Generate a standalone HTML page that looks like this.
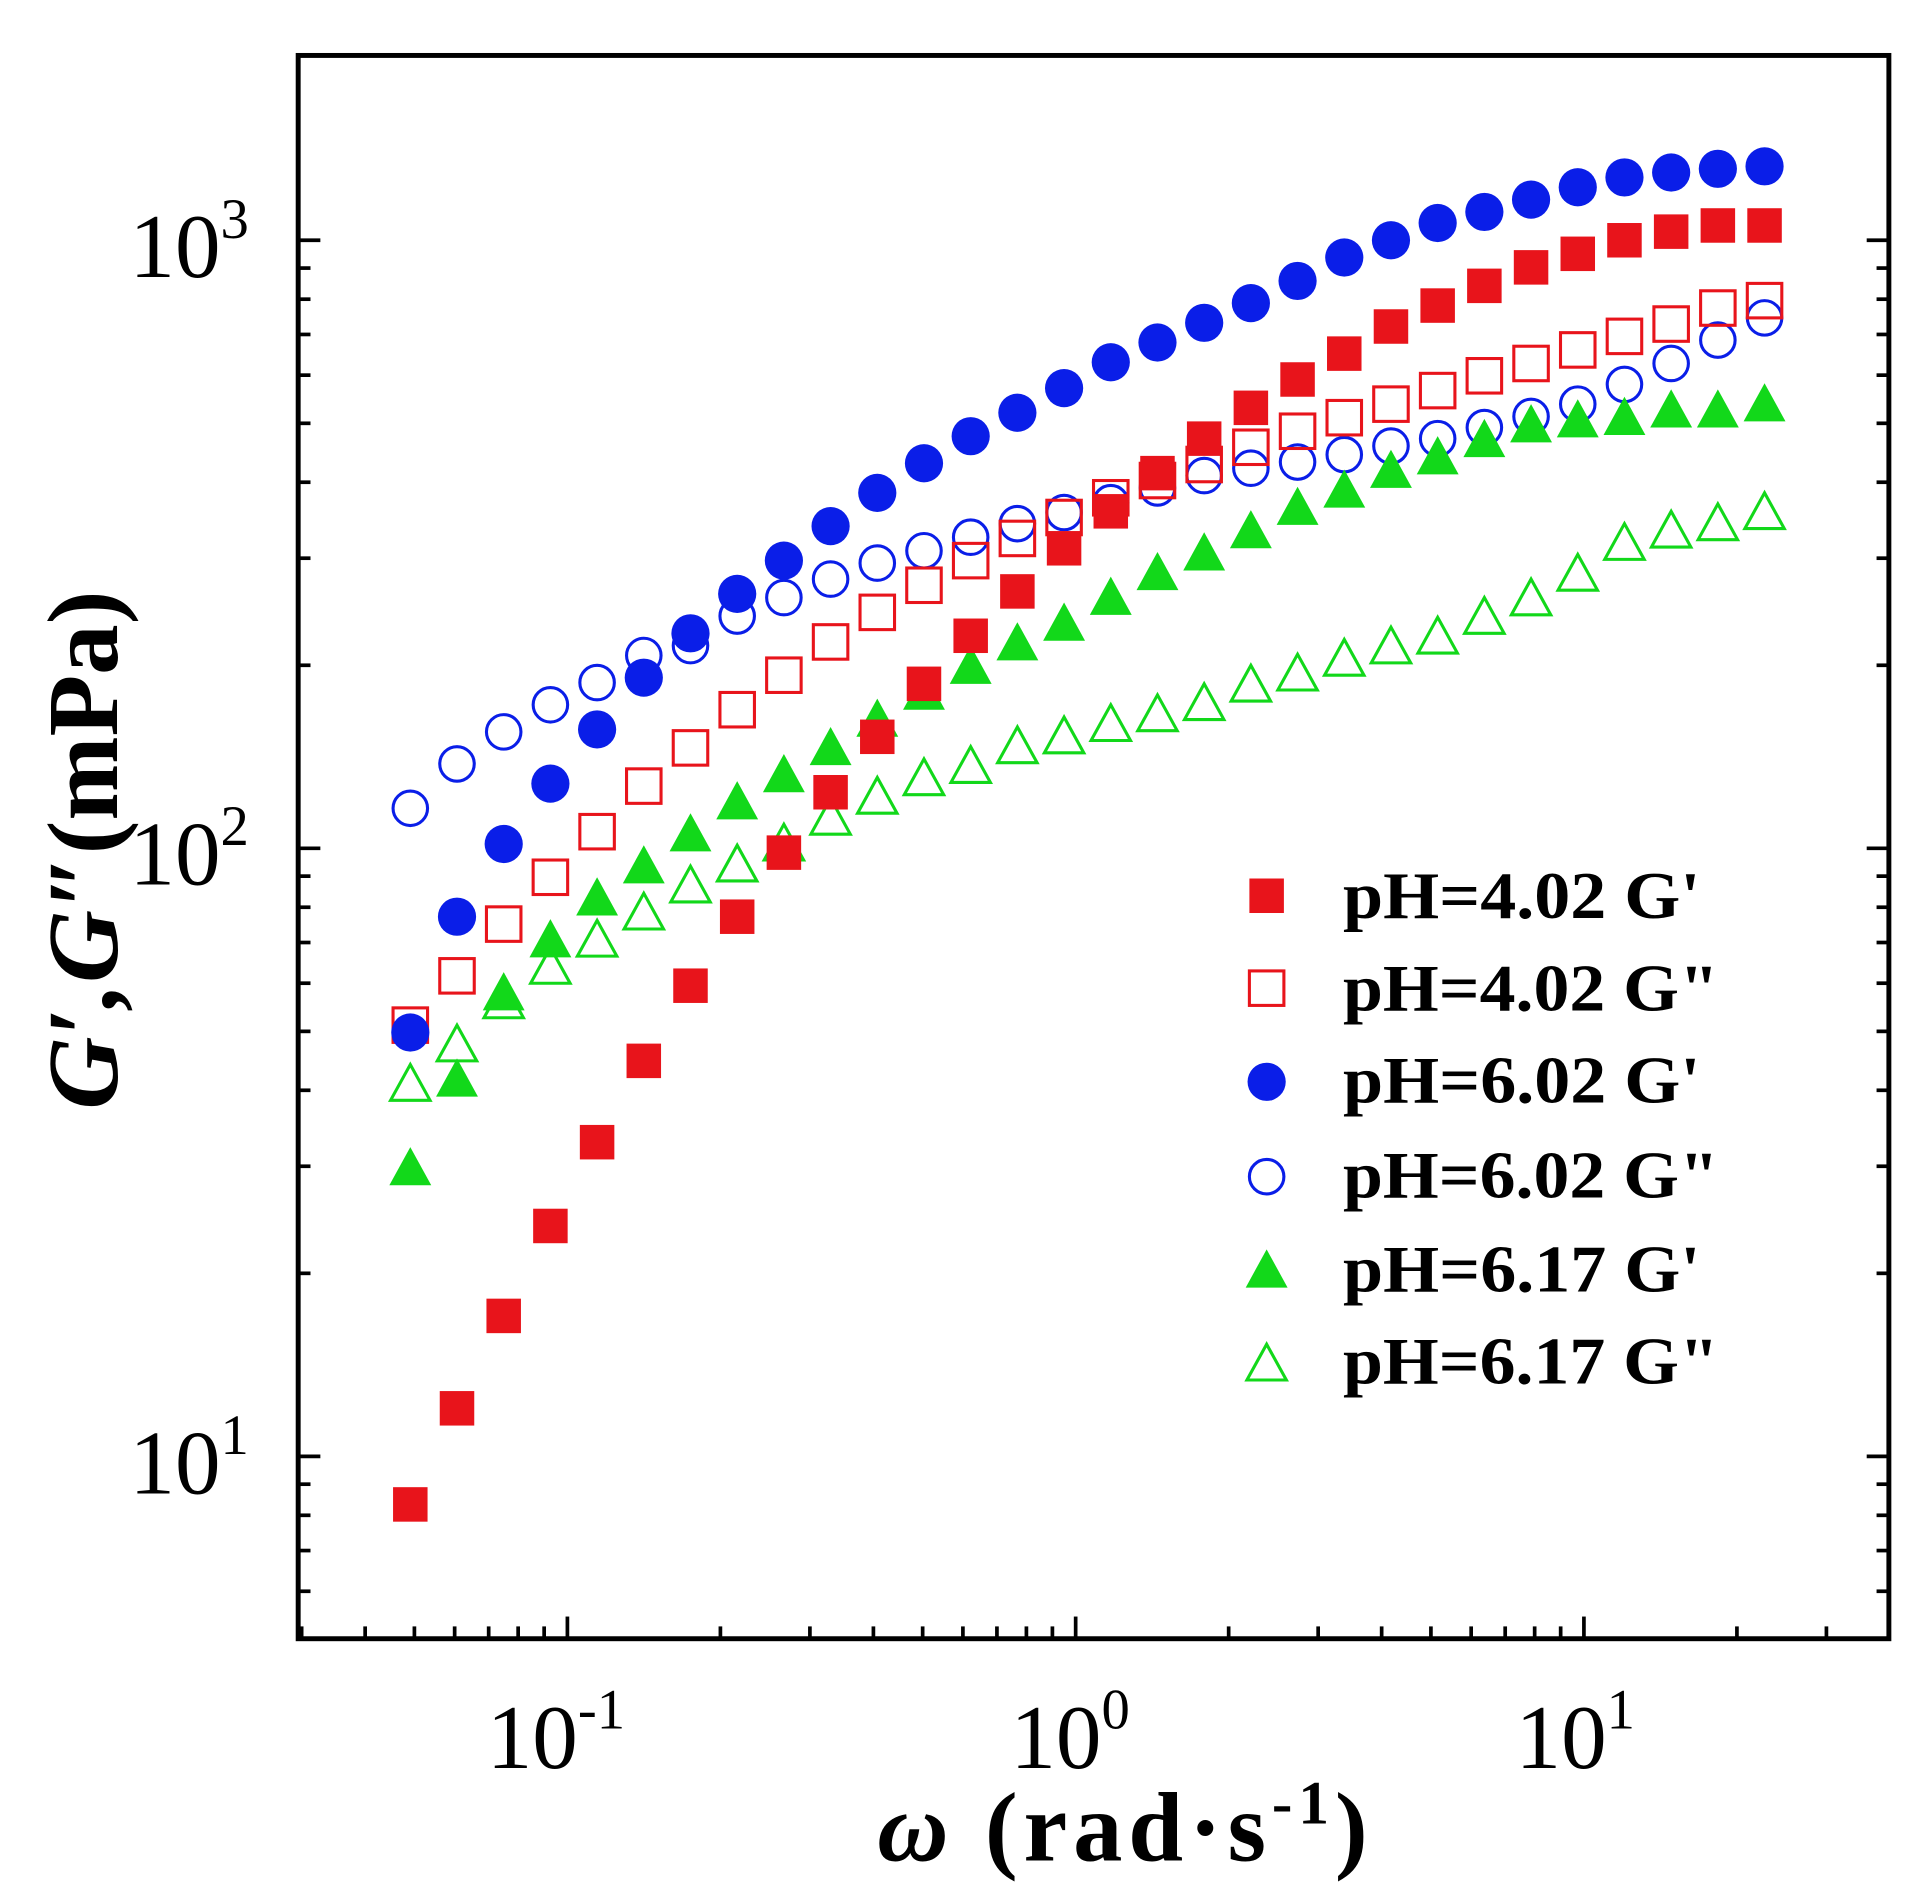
<!DOCTYPE html>
<html><head><meta charset="utf-8"><style>html,body{margin:0;padding:0;background:#fff}svg{display:block}</style></head>
<body>
<svg width="1932" height="1904" viewBox="0 0 1568 1545.3" preserveAspectRatio="none" xmlns="http://www.w3.org/2000/svg" font-family="Liberation Serif, serif">
<rect x="0" y="0" width="1568" height="1546" fill="#fff"/>
<rect x="242" y="45" width="1291" height="1285" fill="none" stroke="#000" stroke-width="4"/>
<g id="ticks" stroke="#000" stroke-width="3"></g>
<g font-size="74" fill="#000">
<text x="105" y="225">10<tspan font-size="46" dy="-32">3</tspan></text>
<text x="105" y="718">10<tspan font-size="46" dy="-32">2</tspan></text>
<text x="105" y="1212">10<tspan font-size="46" dy="-32">1</tspan></text>
<text x="395" y="1435">10<tspan font-size="46" dy="-32">-1</tspan></text>
<text x="820" y="1435">10<tspan font-size="46" dy="-32">0</tspan></text>
<text x="1230" y="1435">10<tspan font-size="46" dy="-32">1</tspan></text>
</g>
<text x="712" y="1510" font-size="80" font-weight="bold" textLength="398" lengthAdjust="spacing"><tspan font-style="italic">ω</tspan>  (rad·s<tspan font-size="50" dy="-30">-1</tspan><tspan dy="30">)</tspan></text>
<text transform="translate(95,690) rotate(-90)" font-size="82" font-weight="bold" text-anchor="middle"><tspan font-style="italic">G′,G″</tspan>(mPa)</text>
<g id="pts"></g>
<g font-size="54" font-weight="bold" fill="#000" lengthAdjust="spacingAndGlyphs">
<text x="1090" y="745" textLength="290" lengthAdjust="spacingAndGlyphs">pH=4.02 G'</text>
<text x="1090" y="820" textLength="305" lengthAdjust="spacingAndGlyphs">pH=4.02 G"</text>
<text x="1090" y="895" textLength="290" lengthAdjust="spacingAndGlyphs">pH=6.02 G'</text>
<text x="1090" y="972" textLength="305" lengthAdjust="spacingAndGlyphs">pH=6.02 G"</text>
<text x="1090" y="1048" textLength="290" lengthAdjust="spacingAndGlyphs">pH=6.17 G'</text>
<text x="1090" y="1123" textLength="305" lengthAdjust="spacingAndGlyphs">pH=6.17 G"</text>
</g>
<g id="leg"></g>
<script>
var NS="http://www.w3.org/2000/svg";
function el(p,t,a){var e=document.createElementNS(NS,t);for(var k in a)e.setAttribute(k,a[k]);p.appendChild(e);return e;}
var T=document.getElementById('ticks');
var ys=493.5;
for(var d=-1;d<3;d++){var base=1182-d*ys;
 for(var m=1;m<10;m++){var y=base-ys*Math.log10(m);if(y<47||y>1328)continue;var L=m==1?18:10;
 el(T,'line',{x1:242,y1:y,x2:242+L,y2:y});el(T,'line',{x1:1533,y1:y,x2:1533-L,y2:y});}}
var xs=412.5;
for(var d=-2;d<2;d++){var base=873+d*xs;
 for(var m=1;m<10;m++){var x=base+xs*Math.log10(m);if(x<244||x>1531)continue;var L=m==1?18:10;
 el(T,'line',{x1:x,y1:1330,x2:x,y2:1330-L});}}
var P=document.getElementById('pts');
var X=[];for(var i=0;i<30;i++)X.push(333+i*37.9);
var R='#e8141b',B='#0a1ee8',G='#12d81a';
function sq(g,x,y,f){el(g,'rect',{x:x-14,y:y-14,width:28,height:28,fill:f?R:'#fff','fill-opacity':f?1:0,stroke:R,'stroke-width':f?0:2.5});}
function ci(g,x,y,f){el(g,'circle',{cx:x,cy:y,r:f?15.5:14,fill:f?B:'none',stroke:B,'stroke-width':f?0:2.5});}
function tr(g,x,y,f){var h=f?15:14;el(g,'polygon',{points:(x-h-2)+','+(y+h)+' '+(x+h+2)+','+(y+h)+' '+x+','+(y-h-1),fill:f?G:'none',stroke:G,'stroke-width':f?0:2.5});}
var rf=[1221,1143,1068,995,927,861,800,744,692,643,598,555,516,480,445,415,384,356,331,308,287,265,248,232,217,206,195,188,183,183];
var ro=[832,792,750,712,675,638,607,576,548,521,497,475,455,437,420,404,390,377,363,350,339,328,317,305,295,284,273,263,250,244];
var bf=[838,744,685,636,592,550,514,482,455,427,400,376,354,335,315,294,278,262,246,228,209,195,181,172,162,152,144,140,137,135];
var bo=[656,620,594,572,554,532,524,500,485,470,457,447,436,425,416,408,396,386,380,375,369,362,356,347,338,328,312,295,276,258];
var gf=[947,875,805,762,728,702,676,650,628,606,583,561,540,521,505,484,464,448,430,411,397,381,370,356,344,340,338,332,332,327];
var go=[879,847,812,784,762,740,718,701,684,663,646,631,621,605,597,587,579,570,555,546,534,524,516,500,485,465,440,430,424,415];
for(var i=0;i<30;i++){tr(P,X[i],go[i],0);}
for(var i=0;i<30;i++){ci(P,X[i],bo[i],0);}
for(var i=0;i<30;i++){sq(P,X[i],ro[i],0);}
for(var i=0;i<30;i++){tr(P,X[i],gf[i],1);}
for(var i=0;i<30;i++){sq(P,X[i],rf[i],1);}
for(var i=0;i<30;i++){ci(P,X[i],bf[i],1);}
var Lg=document.getElementById('leg');
sq(Lg,1028,727,1);sq(Lg,1028,802,0);ci(Lg,1028,878,1);ci(Lg,1028,955,0);tr(Lg,1028,1030,1);tr(Lg,1028,1106,0);
</script>
</svg>
</body></html>
